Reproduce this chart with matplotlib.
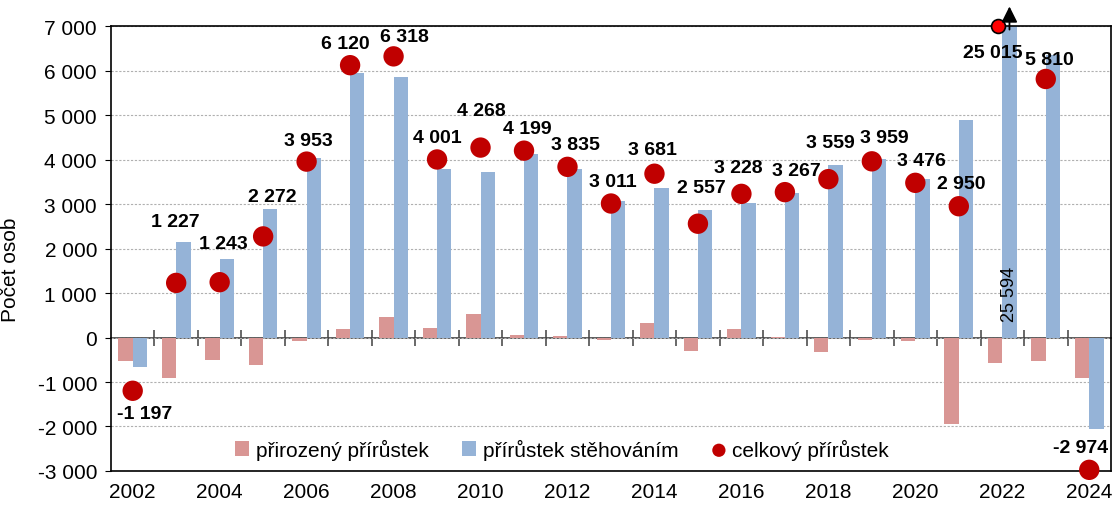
import numpy as np
import matplotlib
matplotlib.use('Agg')
from matplotlib import pyplot as plt
from matplotlib.ticker import FuncFormatter, MultipleLocator

plt.rcParams['font.family'] = ['Liberation Sans', 'DejaVu Sans']

years = list(range(2002, 2025))
natural = [-530, -915, -510, -607, -83, 186, 456, 218, 539, 67, 38, -67,
           321, -300, 202, 9, -322, -45, -75, -1948, -579, -532, -915]
migration = [-667, 2142, 1753, 2879, 4036, 5934, 5862, 3783, 3729, 4132,
             3797, 3078, 3360, 2857, 3026, 3258, 3881, 4004, 3551, 4898,
             25594, 6342, -2059]
total = [-1197, 1227, 1243, 2272, 3953, 6120, 6318, 4001, 4268, 4199, 3835,
         3011, 3681, 2557, 3228, 3267, 3559, 3959, 3476, 2950, 25015, 5810,
         -2974]

# label offsets of the totals in pixels (dx, dy)
label_offsets = [(12, -23), (-1, 61), (4, 39), (9, 40), (2, 21), (-5, 22),
                 (11, 20), (0, 22), (1, 37), (3, 22), (8, 22), (2, 22),
                 (-2, 24), (3, 36), (-3, 26), (11, 22), (2, 37), (12, 24),
                 (6, 22), (2, 23), (-10, -26), (4, 19), (-9, 22)]

c_nat = '#D99694'
c_mig = '#95B3D7'
c_tot = '#C00000'
ymin, ymax = -3000, 7000


def fmt(v, pos=None):
    return '{:,.0f}'.format(v).replace(',', ' ')


fig = plt.figure(figsize=(11.14, 5.06), dpi=100)
ax = fig.add_axes([0.0996, 0.0672, 0.8977, 0.8794])

x = np.arange(len(years))
w = 0.33
b1 = ax.bar(x - w / 2, natural, w, color=c_nat, zorder=2,
            label='přirozený přírůstek')
b2 = ax.bar(x + w / 2, migration, w, color=c_mig, zorder=2,
            label='přírůstek stěhováním')

# totals inside the range as big dots, the out of range one capped at the top
inside = [i for i in x if ymin <= total[i] <= ymax]
outside = [i for i in x if total[i] > ymax]
sc = ax.scatter(x[inside], [total[i] for i in inside], s=215, color=c_tot,
                zorder=4, clip_on=False, label='celkový přírůstek',
                edgecolors='none')
for i in outside:
    ax.plot(i - 0.11, ymax, 'o', ms=10, mfc='#FF0000', mec='black',
            mew=1.2, zorder=5, clip_on=False)
    # arrow above the capped migration bar
    ax.annotate('', xy=(i + w / 2, ymax + 440), xytext=(i + w / 2, ymax - 80),
                arrowprops=dict(arrowstyle='-|>', color='black', lw=1.3,
                                mutation_scale=24, shrinkA=0, shrinkB=0),
                annotation_clip=False, zorder=6)

for i in x:
    yv = min(total[i], ymax)
    ax.annotate(fmt(total[i]), xy=(i, yv), xytext=label_offsets[i],
                textcoords='offset pixels', ha='center', va='center',
                fontsize=14, fontweight='bold', zorder=6,
                annotation_clip=False)
    if migration[i] > ymax:
        ax.text(i + w / 2, 1000, fmt(migration[i]), rotation=90,
                ha='center', va='center', fontsize=13, zorder=5)

ax.set_xlim(-0.5, len(years) - 0.5)
ax.set_ylim(ymin, ymax)
ax.yaxis.set_major_locator(MultipleLocator(1000))
ax.yaxis.set_major_formatter(FuncFormatter(fmt))
ax.grid(axis='y', linestyle=(0, (2, 1.5)), color='#b0b0b0', lw=0.8, zorder=0)
ax.set_axisbelow(True)

ax.set_xticks(x[::2])
ax.set_xticklabels([str(y) for y in years[::2]])
ax.tick_params(axis='x', length=0, pad=8, labelsize=15)
ax.tick_params(axis='y', length=4, pad=6, labelsize=15, direction='out')

for s in ax.spines.values():
    s.set_color('black')
    s.set_linewidth(1.2)

# zero line with category separators
sec = ax.secondary_xaxis((0 - ymin) / (ymax - ymin))
sec.set_xticks(x[:-1] + 0.5)
sec.tick_params(direction='inout', length=12, width=1.1, color='#404040',
                labelbottom=False, labeltop=False)
sec.spines['bottom'].set_color('#404040')
sec.spines['bottom'].set_linewidth(1.2)
sec.spines['top'].set_color('#404040')

ax.set_ylabel('Počet osob', fontsize=15)
ax.yaxis.set_label_coords(-0.091, 0.454)

ax.legend([b1, b2, sc], [b1.get_label(), b2.get_label(), sc.get_label()],
          loc='center', bbox_to_anchor=(0.451, 0.049), ncol=3,
          frameon=False, fontsize=15, handlelength=0.7, handleheight=0.7,
          handletextpad=0.3, columnspacing=1.6, markerscale=0.65)

plt.savefig('out.png', dpi=100)
